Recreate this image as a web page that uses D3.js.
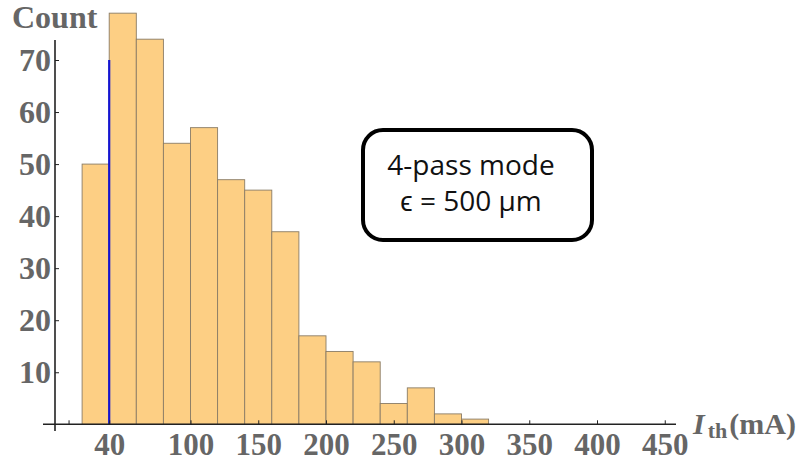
<!DOCTYPE html>
<html lang="en">
<head>
    <meta charset="UTF-8">
    <title>Threshold current histogram</title>
    <script src="https://d3js.org/d3.v7.min.js"></script>
    <style>
        body { margin: 0; padding: 0; background: #fff; }
        svg { display: block; }
        .tick text { font-family: "Liberation Serif", "Times New Roman", serif; font-weight: bold; font-size: 32px; fill: #666; }
        .x-axis .tick text { font-size: 31px; }
        .tick line { stroke: #222; }
    </style>
</head>
<body>
<svg id="chart" width="802" height="463"></svg>

<script>
    // histogram bins (lower edge, mA) and counts
    const binStarts = [20, 40, 60, 80, 100, 120, 140, 160, 180, 200, 220, 240, 260, 280, 300];
    const counts = [50, 79, 74, 54, 57, 47, 45, 37, 17, 14, 12, 4, 7, 2, 1];
    const binWidth = 20;
    const xTicks = [10, 40, 100, 150, 200, 250, 300, 350, 400, 450];
    const yTicks = [10, 20, 30, 40, 50, 60, 70];
    const markerX = 40, markerTop = 70;

    const svg = d3.select("#chart");

    const x = d3.scaleLinear().domain([0, 450]).range([55, 664.75]);
    const y = d3.scaleLinear().domain([0, 70]).range([424.3, 60]);

    // bars
    svg.append("g").selectAll("rect")
        .data(binStarts.map((s, i) => ({ s: s, c: counts[i] })))
        .enter().append("rect")
        .attr("x", d => x(d.s))
        .attr("width", d => x(d.s + binWidth) - x(d.s))
        .attr("y", d => y(d.c))
        .attr("height", d => y(0) - y(d.c))
        .attr("fill", "#fdcf84")
        .attr("stroke", "#8a7c66")
        .attr("stroke-width", 0.9);

    // blue marker line
    svg.append("line")
        .attr("x1", x(markerX)).attr("x2", x(markerX))
        .attr("y1", y(0)).attr("y2", y(markerTop))
        .attr("stroke", "#1414d2")
        .attr("stroke-width", 2.2);

    // axes lines (drawn by hand so they overshoot like the original)
    svg.append("line")
        .attr("x1", 43).attr("x2", 676)
        .attr("y1", y(0)).attr("y2", y(0))
        .attr("stroke", "#222").attr("stroke-width", 1.6);
    svg.append("line")
        .attr("x1", x(0)).attr("x2", x(0))
        .attr("y1", 40).attr("y2", 431)
        .attr("stroke", "#222").attr("stroke-width", 1.6);

    const xAxis = svg.append("g")
        .attr("class", "x-axis")
        .attr("transform", `translate(0,${y(0)})`)
        .call(d3.axisBottom(x).tickValues(xTicks).tickSize(-4).tickPadding(9)
            .tickFormat(d => d === 10 ? "" : d));
    xAxis.select(".domain").remove();

    const yAxis = svg.append("g")
        .attr("transform", `translate(${x(0)},0)`)
        .call(d3.axisLeft(y).tickValues(yTicks).tickSize(-4).tickPadding(4));
    yAxis.select(".domain").remove();
    yAxis.selectAll("text").attr("dy", "0.33em");

    // axis titles
    svg.append("text")
        .attr("x", 12).attr("y", 28)
        .style("font-family", "'Liberation Serif', serif")
        .style("font-weight", "bold").style("font-size", "32px")
        .attr("fill", "#666")
        .text("Count");

    const xl = svg.append("text")
        .attr("x", 693).attr("y", 434)
        .style("font-family", "'Liberation Serif', serif")
        .style("font-weight", "bold").style("font-size", "30px")
        .attr("fill", "#666");
    xl.append("tspan").style("font-style", "italic").text("I");
    xl.append("tspan").attr("dx", 3).attr("dy", 4).style("font-size", "22px").text("th");
    xl.append("tspan").attr("dx", 2).attr("dy", -4).text("(mA)");

    // annotation box
    svg.append("rect")
        .attr("x", 363).attr("y", 130)
        .attr("width", 229).attr("height", 110)
        .attr("rx", 20).attr("ry", 20)
        .attr("fill", "#fff")
        .attr("stroke", "#000").attr("stroke-width", 4);

    const note = svg.append("text")
        .attr("text-anchor", "middle")
        .style("font-family", "'Open Sans', sans-serif")
        .style("font-size", "28px")
        .attr("fill", "#111");
    note.append("tspan").attr("x", 471).attr("y", 175).text("4-pass mode");
    note.append("tspan").attr("x", 471).attr("y", 211).text("\u03f5 = 500 \u00b5m");
</script>
</body>
</html>
